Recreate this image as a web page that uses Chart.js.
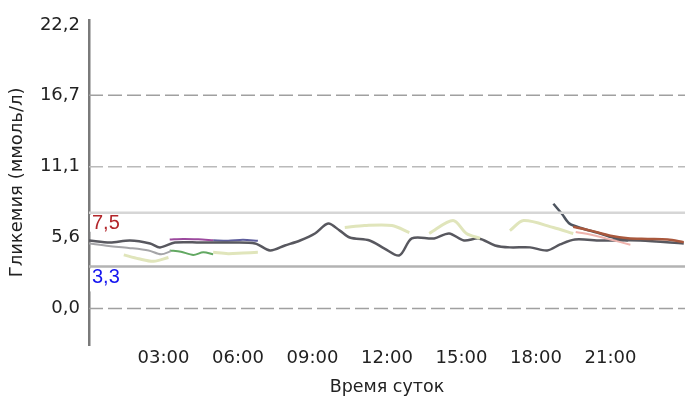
<!DOCTYPE html>
<html>
<head>
<meta charset="utf-8">
<script src="https://cdn.jsdelivr.net/npm/chart.js@4/dist/chart.umd.min.js"></script>
<style>
  html, body { margin: 0; padding: 0; background: #fff; }
  #wrap { width: 685px; height: 402px; }
</style>
</head>
<body>
<div id="wrap"><canvas id="myChart" width="685" height="402"></canvas></div>
<script>
// tick labels
const yTicks = [0, 5.6, 11.1, 16.7, 22.2];
const xTicks = [3, 6, 9, 12, 15, 18, 21];
const gridValues = [0, 11.1, 16.7];
const lowLimit = 3.3;
const highLimit = 7.5;

// main dark grey curve (hours / mmol/l)
const mainHours = [0, 0.85, 1.65, 2.46, 2.86, 3.46, 4.47, 5.68, 6.69, 7.29, 7.89, 8.5, 9.1, 9.63, 10.1, 10.5, 11.3, 11.9, 12.5, 13.0, 13.9, 14.5, 15.1, 15.7, 16.35, 16.95, 17.76, 18.45, 18.97, 19.57, 20.6, 22.2, 23.95];
const mainValues = [5.33, 5.17, 5.33, 5.1, 4.79, 5.17, 5.17, 5.17, 5.1, 4.55, 4.94, 5.33, 5.88, 6.65, 6.1, 5.56, 5.33, 4.7, 4.16, 5.49, 5.49, 5.88, 5.33, 5.49, 4.94, 4.79, 4.79, 4.55, 5.02, 5.41, 5.33, 5.33, 5.1];
// second (light grey) curve at night
const greyHours = [0, 0.8, 1.6, 2.4, 2.9, 3.3];
const greyValues = [5.1, 4.9, 4.75, 4.55, 4.25, 4.5];
const purpleHours = [3.25, 3.8, 4.4, 5.0];
const purpleValues = [5.4, 5.45, 5.42, 5.35];
const navyHours = [5.0, 5.6, 6.2, 6.8];
const navyValues = [5.35, 5.3, 5.38, 5.3];
const greenHours = [3.25, 3.7, 4.2, 4.6, 5.0];
const greenValues = [4.55, 4.45, 4.2, 4.4, 4.25];
// pale yellow-green curve, null = gap
const paleHours = [1.4, 2.0, 2.6, 3.2, 3.3, 5.0, 5.6, 6.2, 6.8, 7.0, 10.3, 11.1, 12.2, 12.9, 13.3, 13.7, 14.66, 15.2, 15.75, 16.4, 16.95, 17.5, 18.7, 19.5];
const paleValues = [4.2, 3.9, 3.7, 4.0, null, 4.4, 4.3, 4.35, 4.4, null, 6.34, 6.5, 6.5, 5.95, null, 5.88, 6.89, 5.88, 5.49, null, 6.1, 6.89, 6.34, 5.88];
const spikeHours = [18.7, 19.05, 19.35, 19.9, 20.45, 21.1, 21.7];
const spikeValues = [8.2, 7.4, 6.65, 6.25, 5.95, 5.56, 5.33];
const brownHours = [19.5, 20.2, 21.0, 21.7, 22.5, 23.3, 23.95];
const brownValues = [6.4, 6.1, 5.7, 5.5, 5.45, 5.4, 5.2];
const pinkHours = [19.6, 20.4, 21.0, 21.8];
const pinkValues = [6.0, 5.7, 5.4, 5.0];

function pts(xs, ys) {
    return xs.map(function (x, i) { return { x: x, y: ys[i] }; });
}
function curve(xs, ys, color, width) {
    return {
        type: 'line',
        data: pts(xs, ys),
        borderColor: color,
        borderWidth: width,
        pointRadius: 0,
        tension: 0.3,
        spanGaps: false
    };
}
function level(v, color, dash) {
    return {
        type: 'line',
        data: [{ x: 0, y: v }, { x: 24, y: v }],
        borderColor: color,
        borderWidth: dash ? 1.5 : 2.5,
        borderDash: dash || [],
        pointRadius: 0
    };
}

const fmt = function (v) { return v.toFixed(1).replace('.', ','); };

// labels 7,5 and 3,3 on white boxes inside the plot
const limitLabels = {
    id: 'limitLabels',
    afterDatasetsDraw(chart) {
        const ctx = chart.ctx;
        const y = chart.scales.y;
        const left = chart.chartArea.left;
        const items = [[highLimit, '#b3262b'], [lowLimit, '#1515f0']];
        ctx.save();
        ctx.font = '20px "Liberation Sans"';
        ctx.textBaseline = 'middle';
        items.forEach(function (it) {
            const py = y.getPixelForValue(it[0]);
            ctx.fillStyle = '#fff';
            ctx.fillRect(left + 1, py + 2, 46, it[0] == highLimit ? 17 : 23);
            ctx.fillStyle = it[1];
            ctx.fillText(fmt(it[0]), left + 3, py + 11);
        });
        ctx.restore();
    }
};

const datasets = gridValues.map(function (v) {
    return level(v, v == 11.1 ? '#bababa' : '#a0a0a0', [14, 5]);
}).concat([
    level(highLimit, '#d6d6d6'),
    level(lowLimit, '#b3b3b3'),
    curve(paleHours, paleValues, '#e0e5bb', 3),
    curve(greyHours, greyValues, '#a5a5a8', 2),
    curve(greenHours, greenValues, '#62a862', 2),
    curve(pinkHours, pinkValues, '#efb3ad', 2),
    curve(brownHours, brownValues, '#a9583d', 2.5),
    curve(mainHours, mainValues, '#58585f', 2.5),
    curve(purpleHours, purpleValues, '#9c4a9e', 2),
    curve(navyHours, navyValues, '#5d5d9c', 2),
    curve(spikeHours, spikeValues, '#4e5560', 2.5)
]);

const config = {
    data: { datasets: datasets },
    options: {
        responsive: false,
        animation: false,
        layout: { padding: { top: 18, right: 0, left: 0, bottom: 0 } },
        plugins: { legend: { display: false }, tooltip: { enabled: false } },
        scales: {
            x: {
                type: 'linear',
                min: 0,
                max: 24,
                afterBuildTicks: function (s) { s.ticks = xTicks.map(function (v) { return { value: v }; }); },
                afterFit: function (s) { s.height = 57; },
                grid: { display: false, drawTicks: false },
                border: { display: false },
                ticks: {
                    padding: 3,
                    color: '#222',
                    font: { family: 'DejaVu Sans', size: 18 },
                    maxRotation: 0,
                    callback: function (v) { return (v < 10 ? '0' : '') + v + ':00'; }
                },
                title: {
                    display: true,
                    text: 'Время суток',
                    color: '#222',
                    font: { family: 'DejaVu Sans', size: 17.5 },
                    padding: { top: 0, bottom: 4 }
                }
            },
            y: {
                min: -2.85,
                max: 22.6,
                afterBuildTicks: function (s) { s.ticks = yTicks.map(function (v) { return { value: v }; }); },
                afterFit: function (s) { s.width = 89; },
                grid: { display: false, drawTicks: false },
                border: { display: true, color: '#7a7a7a', width: 2.5 },
                ticks: {
                    padding: 9,
                    color: '#222',
                    font: { family: 'DejaVu Sans', size: 18 },
                    callback: function (v) { return fmt(v); }
                },
                title: {
                    display: true,
                    text: 'Гликемия (ммоль/л)',
                    color: '#222',
                    font: { family: 'DejaVu Sans', size: 18 },
                    padding: { top: 7, bottom: 0 }
                }
            }
        }
    },
    plugins: [limitLabels]
};

const chart = new Chart(document.getElementById('myChart'), config);
</script>
</body>
</html>
